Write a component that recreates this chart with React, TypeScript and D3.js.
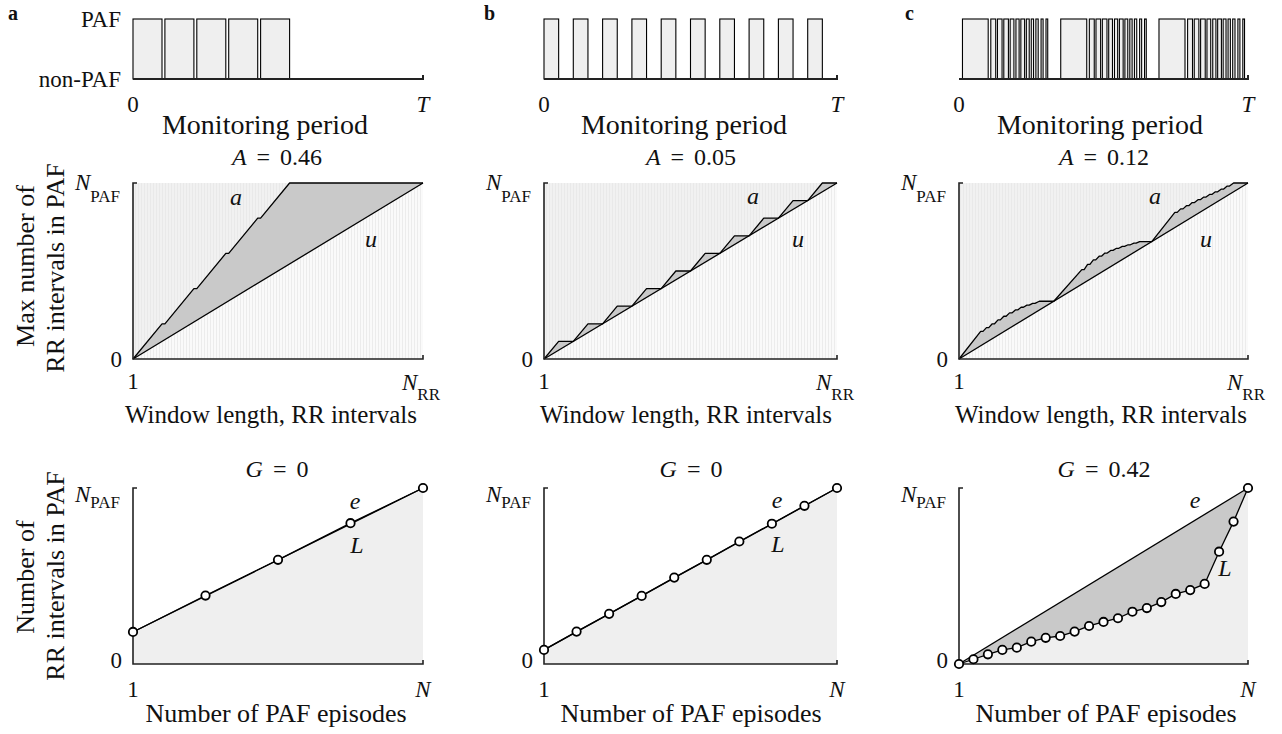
import React from "react";
import * as d3 from "d3";

// ---------- data ----------
const panelLetters = ["a", "b", "c"];
const areaValues = ["0.46", "0.05", "0.12"];
const giniValues = ["0", "0", "0.42"];
const stateLabels = ["non-PAF", "PAF"];

// PAF episodes, [start, end] as fraction of the monitoring period T
const episodesA: [number, number][] = [
  [0, 0.1], [0.11, 0.21], [0.22, 0.32], [0.33, 0.43], [0.44, 0.54],
];
const episodesB: [number, number][] = [
  [0, 0.05], [0.1, 0.15], [0.2, 0.25], [0.3, 0.35], [0.4, 0.45],
  [0.5, 0.55], [0.6, 0.65], [0.7, 0.75], [0.8, 0.85], [0.9, 0.95],
];
const episodesC: [number, number][] = [
  [0.012, 0.101], [0.11, 0.127], [0.133, 0.149], [0.155, 0.171], [0.177, 0.19],
  [0.197, 0.208], [0.214, 0.227], [0.233, 0.243], [0.25, 0.258], [0.266, 0.274],
  [0.284, 0.291], [0.301, 0.307],
  [0.352, 0.442], [0.451, 0.468], [0.474, 0.49], [0.496, 0.512], [0.518, 0.531],
  [0.538, 0.549], [0.555, 0.568], [0.574, 0.584], [0.591, 0.599], [0.607, 0.615],
  [0.625, 0.632], [0.642, 0.648],
  [0.692, 0.782], [0.791, 0.808], [0.814, 0.83], [0.836, 0.852], [0.858, 0.871],
  [0.878, 0.889], [0.895, 0.908], [0.914, 0.924], [0.931, 0.939], [0.947, 0.955],
  [0.965, 0.972], [0.982, 0.988],
];

// max PAF curve a: [window length (of N_RR), max PAF intervals (of N_PAF)]
const windowA: [number, number][] = [
  [0, 0], [0.1, 0.2], [0.11, 0.2], [0.21, 0.4], [0.22, 0.4], [0.32, 0.6],
  [0.33, 0.6], [0.43, 0.8], [0.44, 0.8], [0.54, 1], [1, 1],
];
const windowB: [number, number][] = [
  [0, 0], [0.05, 0.1], [0.1, 0.1], [0.15, 0.2], [0.2, 0.2], [0.25, 0.3], [0.3, 0.3],
  [0.35, 0.4], [0.4, 0.4], [0.45, 0.5], [0.5, 0.5], [0.55, 0.6], [0.6, 0.6],
  [0.65, 0.7], [0.7, 0.7], [0.75, 0.8], [0.8, 0.8], [0.85, 0.9], [0.9, 0.9],
  [0.95, 1], [1, 1],
];
const windowC: [number, number][] = [
  [0, 0],
  [0.075, 0.157], [0.083, 0.157], [0.095, 0.178], [0.103, 0.178], [0.115, 0.2], [0.123, 0.2],
  [0.135, 0.222], [0.143, 0.222], [0.155, 0.243], [0.163, 0.243], [0.175, 0.262], [0.183, 0.262],
  [0.195, 0.279], [0.203, 0.279], [0.215, 0.294], [0.223, 0.294], [0.235, 0.306], [0.243, 0.306],
  [0.255, 0.316], [0.263, 0.316], [0.278, 0.328], [0.328, 0.328],
  [0.425, 0.508], [0.433, 0.508], [0.445, 0.538], [0.453, 0.538], [0.465, 0.563], [0.473, 0.563],
  [0.485, 0.584], [0.493, 0.584], [0.505, 0.602], [0.513, 0.602], [0.525, 0.617], [0.533, 0.617],
  [0.545, 0.629], [0.553, 0.629], [0.565, 0.64], [0.573, 0.64], [0.585, 0.649], [0.593, 0.649],
  [0.605, 0.658], [0.613, 0.658], [0.625, 0.667], [0.667, 0.667],
  [0.747, 0.833], [0.755, 0.833], [0.767, 0.853], [0.775, 0.853], [0.787, 0.871], [0.795, 0.871],
  [0.807, 0.889], [0.815, 0.889], [0.827, 0.905], [0.835, 0.905], [0.847, 0.92], [0.855, 0.92],
  [0.867, 0.935], [0.875, 0.935], [0.887, 0.95], [0.895, 0.95], [0.907, 0.965], [0.915, 0.965],
  [0.927, 0.982], [0.935, 0.982], [0.95, 1], [1, 1],
];

// Lorenz curves: cumulative PAF intervals (of N_PAF) for episode 1..N
const lorenzA = [0.182, 0.389, 0.592, 0.8, 1.0];
const lorenzB = [0.08, 0.184, 0.285, 0.387, 0.491, 0.592, 0.696, 0.797, 0.899, 1.0];
const lorenzC = [0, 0.027, 0.055, 0.08, 0.093, 0.127, 0.149, 0.159, 0.184, 0.216,
  0.239, 0.26, 0.297, 0.318, 0.352, 0.398, 0.42, 0.455, 0.638, 0.809, 1.0];

const episodesAll = [episodesA, episodesB, episodesC];
const windowAll = [windowA, windowB, windowC];
const lorenzAll = [lorenzA, lorenzB, lorenzC];

// ---------- layout ----------
const W = 1282;
const H = 734;
const FONT = "'Liberation Serif', 'Times New Roman', serif";
const colRange: [number, number][] = [[133, 423], [544, 837], [959, 1248]];
const topRow = { paf: 19, non: 79 };
const midRow = { top: 183, bottom: 359 };
const botRow = { top: 488, bottom: 664 };
const letterX = [8, 484, 905];
const monLabelX = [265, 684, 1100];
const winLabelX = [271, 686, 1101];
const epiLabelX = [276, 691, 1106];
const titleX = [277, 691, 1104];
const aLabel: [number, number][] = [[236, 205], [753, 204], [1155, 204]];
const uLabel: [number, number][] = [[371, 247], [798, 247], [1206, 247]];
const eLabel: [number, number][] = [[355, 509], [777, 508], [1195, 508]];
const lLabel: [number, number][] = [[357, 553], [778, 552], [1225, 576]];

const DARK = "#222";
const LIGHT = "#efefef";
const MID = "#c9c9c9";

function Spines({ x0, x1, y0, y1 }: { x0: number; x1: number; y0: number; y1: number }) {
  return (
    <path d={`M${x0 + 4},${y0}H${x0}V${y1}H${x1}V${y1 - 4}`} stroke={DARK} strokeWidth={1.6} fill="none" />
  );
}

function TopPanel({ i }: { i: number }) {
  const [x0, x1] = colRange[i];
  const x = d3.scaleLinear().domain([0, 1]).range([x0, x1]);
  const y = d3.scalePoint<string>().domain(stateLabels).range([topRow.non, topRow.paf]);
  const yP = y("PAF") as number;
  const yN = y("non-PAF") as number;
  return (
    <g>
      {episodesAll[i].map((e, k) => (
        <rect key={k} x={x(e[0])} y={yP} width={x(e[1]) - x(e[0])} height={yN - yP}
          fill={LIGHT} stroke="#000" strokeWidth={1.1} />
      ))}
      <path d={`M${x0},${yN}H${x1}V${yN - 4}`} stroke={DARK} strokeWidth={2} fill="none" />
      {i === 0 && stateLabels.map((s) => (
        <text key={s} x={x0 - 12} y={(y(s) as number) + 8} textAnchor="end" fontSize={23}>{s}</text>
      ))}
      <text x={x(0)} y={112} textAnchor="middle" fontSize={23}>0</text>
      <text x={x(1)} y={112} textAnchor="middle" fontSize={23} fontStyle="italic">T</text>
      <text x={monLabelX[i]} y={134} textAnchor="middle" fontSize={28}>Monitoring period</text>
      <text x={letterX[i]} y={20} fontSize={20} fontWeight="bold">{panelLetters[i]}</text>
    </g>
  );
}

function MidPanel({ i }: { i: number }) {
  const [x0, x1] = colRange[i];
  const x = d3.scaleLinear().domain([0, 1]).range([x0, x1]);
  const y = d3.scaleLinear().domain([0, 1]).range([midRow.bottom, midRow.top]);
  const pts = windowAll[i];
  const line = d3.line<[number, number]>().x((d) => x(d[0])).y((d) => y(d[1]));
  const upper = line([[0, 0], [0, 1], [1, 1]]) + "Z";
  const lower = line([[0, 0], [1, 1], [1, 0]]) + "Z";
  const between = line([...pts, [1, 1], [0, 0]]) + "Z";
  return (
    <g>
      <path d={upper} fill="url(#stripesUp)" />
      <path d={lower} fill="url(#stripesLow)" />
      <path d={between} fill={MID} />
      <path d={line(pts) as string} fill="none" stroke="#000" strokeWidth={1.3} strokeLinejoin="round" />
      <path d={line([[0, 0], [1, 1]]) as string} fill="none" stroke="#000" strokeWidth={1.3} />
      <Spines x0={x0} x1={x1} y0={midRow.top} y1={midRow.bottom} />
      <text x={x0 - 13} y={midRow.top + 7} textAnchor="end" fontSize={23}>
        <tspan fontStyle="italic">N</tspan>
        <tspan fontSize={17} dy={12}>PAF</tspan>
      </text>
      <text x={x0 - 11} y={midRow.bottom + 8} textAnchor="end" fontSize={23}>0</text>
      <text x={x0} y={389} textAnchor="middle" fontSize={23}>1</text>
      <text x={x1 - 21} y={390} fontSize={23}>
        <tspan fontStyle="italic">N</tspan>
        <tspan fontSize={17} dy={10}>RR</tspan>
      </text>
      <text x={winLabelX[i]} y={423} textAnchor="middle" fontSize={25}>Window length, RR intervals</text>
      <text x={titleX[i]} y={165} textAnchor="middle" fontSize={24} wordSpacing={4}>
        <tspan fontStyle="italic">A</tspan> = {areaValues[i]}
      </text>
      <text x={aLabel[i][0]} y={aLabel[i][1]} textAnchor="middle" fontSize={24} fontStyle="italic">a</text>
      <text x={uLabel[i][0]} y={uLabel[i][1]} textAnchor="middle" fontSize={24} fontStyle="italic">u</text>
    </g>
  );
}

function BotPanel({ i }: { i: number }) {
  const [x0, x1] = colRange[i];
  const vals = lorenzAll[i];
  const n = vals.length;
  const x = d3.scaleLinear().domain([1, n]).range([x0, x1]);
  const y = d3.scaleLinear().domain([0, 1]).range([botRow.bottom, botRow.top]);
  const pts: [number, number][] = vals.map((v, k) => [k + 1, v]);
  const line = d3.line<[number, number]>().x((d) => x(d[0])).y((d) => y(d[1]));
  const under = line([[1, 0], ...pts, [n, 0]]) + "Z";
  const egal: [number, number][] = [pts[0], pts[n - 1]];
  const gap = line([...egal, ...pts.slice().reverse()]) + "Z";
  return (
    <g>
      <path d={under} fill={LIGHT} />
      {i === 2 && <path d={gap} fill={MID} />}
      <path d={line(egal) as string} fill="none" stroke="#000" strokeWidth={1.3} />
      <path d={line(pts) as string} fill="none" stroke="#000" strokeWidth={1.3} />
      <Spines x0={x0} x1={x1} y0={botRow.top} y1={botRow.bottom} />
      {pts.map((p, k) => (
        <circle key={k} cx={x(p[0])} cy={y(p[1])} r={4.2} fill="#fff" stroke="#000" strokeWidth={1.8} />
      ))}
      <text x={x0 - 13} y={botRow.top + 14} textAnchor="end" fontSize={23}>
        <tspan fontStyle="italic">N</tspan>
        <tspan fontSize={17} dy={6}>PAF</tspan>
      </text>
      <text x={x0 - 11} y={botRow.bottom + 4} textAnchor="end" fontSize={23}>0</text>
      <text x={x0} y={697} textAnchor="middle" fontSize={23}>1</text>
      <text x={x1} y={697} textAnchor="middle" fontSize={23} fontStyle="italic">N</text>
      <text x={epiLabelX[i]} y={722} textAnchor="middle" fontSize={26}>Number of PAF episodes</text>
      <text x={titleX[i]} y={477} textAnchor="middle" fontSize={24} wordSpacing={4}>
        <tspan fontStyle="italic">G</tspan> = {giniValues[i]}
      </text>
      <text x={eLabel[i][0]} y={eLabel[i][1]} textAnchor="middle" fontSize={24} fontStyle="italic">e</text>
      <text x={lLabel[i][0]} y={lLabel[i][1]} textAnchor="middle" fontSize={24} fontStyle="italic">L</text>
    </g>
  );
}

export default function App() {
  return (
    <svg width={W} height={H} viewBox={`0 0 ${W} ${H}`}
      style={{ position: "absolute", left: 0, top: 0, background: "#fff" }}
      fontFamily={FONT} fill="#111">
      <defs>
        <pattern id="stripesUp" width={3} height={10} patternUnits="userSpaceOnUse">
          <rect width={3} height={10} fill="#f1f1f1" />
          <rect width={1} height={10} fill="#e9e9e9" />
        </pattern>
        <pattern id="stripesLow" width={3} height={10} patternUnits="userSpaceOnUse">
          <rect width={3} height={10} fill="#fafafa" />
          <rect width={1} height={10} fill="#ececec" />
        </pattern>
      </defs>
      {[0, 1, 2].map((i) => <TopPanel key={`t${i}`} i={i} />)}
      {[0, 1, 2].map((i) => <MidPanel key={`m${i}`} i={i} />)}
      {[0, 1, 2].map((i) => <BotPanel key={`b${i}`} i={i} />)}
      <g fontSize={26}>
        <text transform="translate(34,266) rotate(-90)" textAnchor="middle">Max number of</text>
        <text transform="translate(64,268) rotate(-90)" textAnchor="middle">RR intervals in PAF</text>
        <text transform="translate(34,577) rotate(-90)" textAnchor="middle">Number of</text>
        <text transform="translate(64,576) rotate(-90)" textAnchor="middle">RR intervals in PAF</text>
      </g>
    </svg>
  );
}
